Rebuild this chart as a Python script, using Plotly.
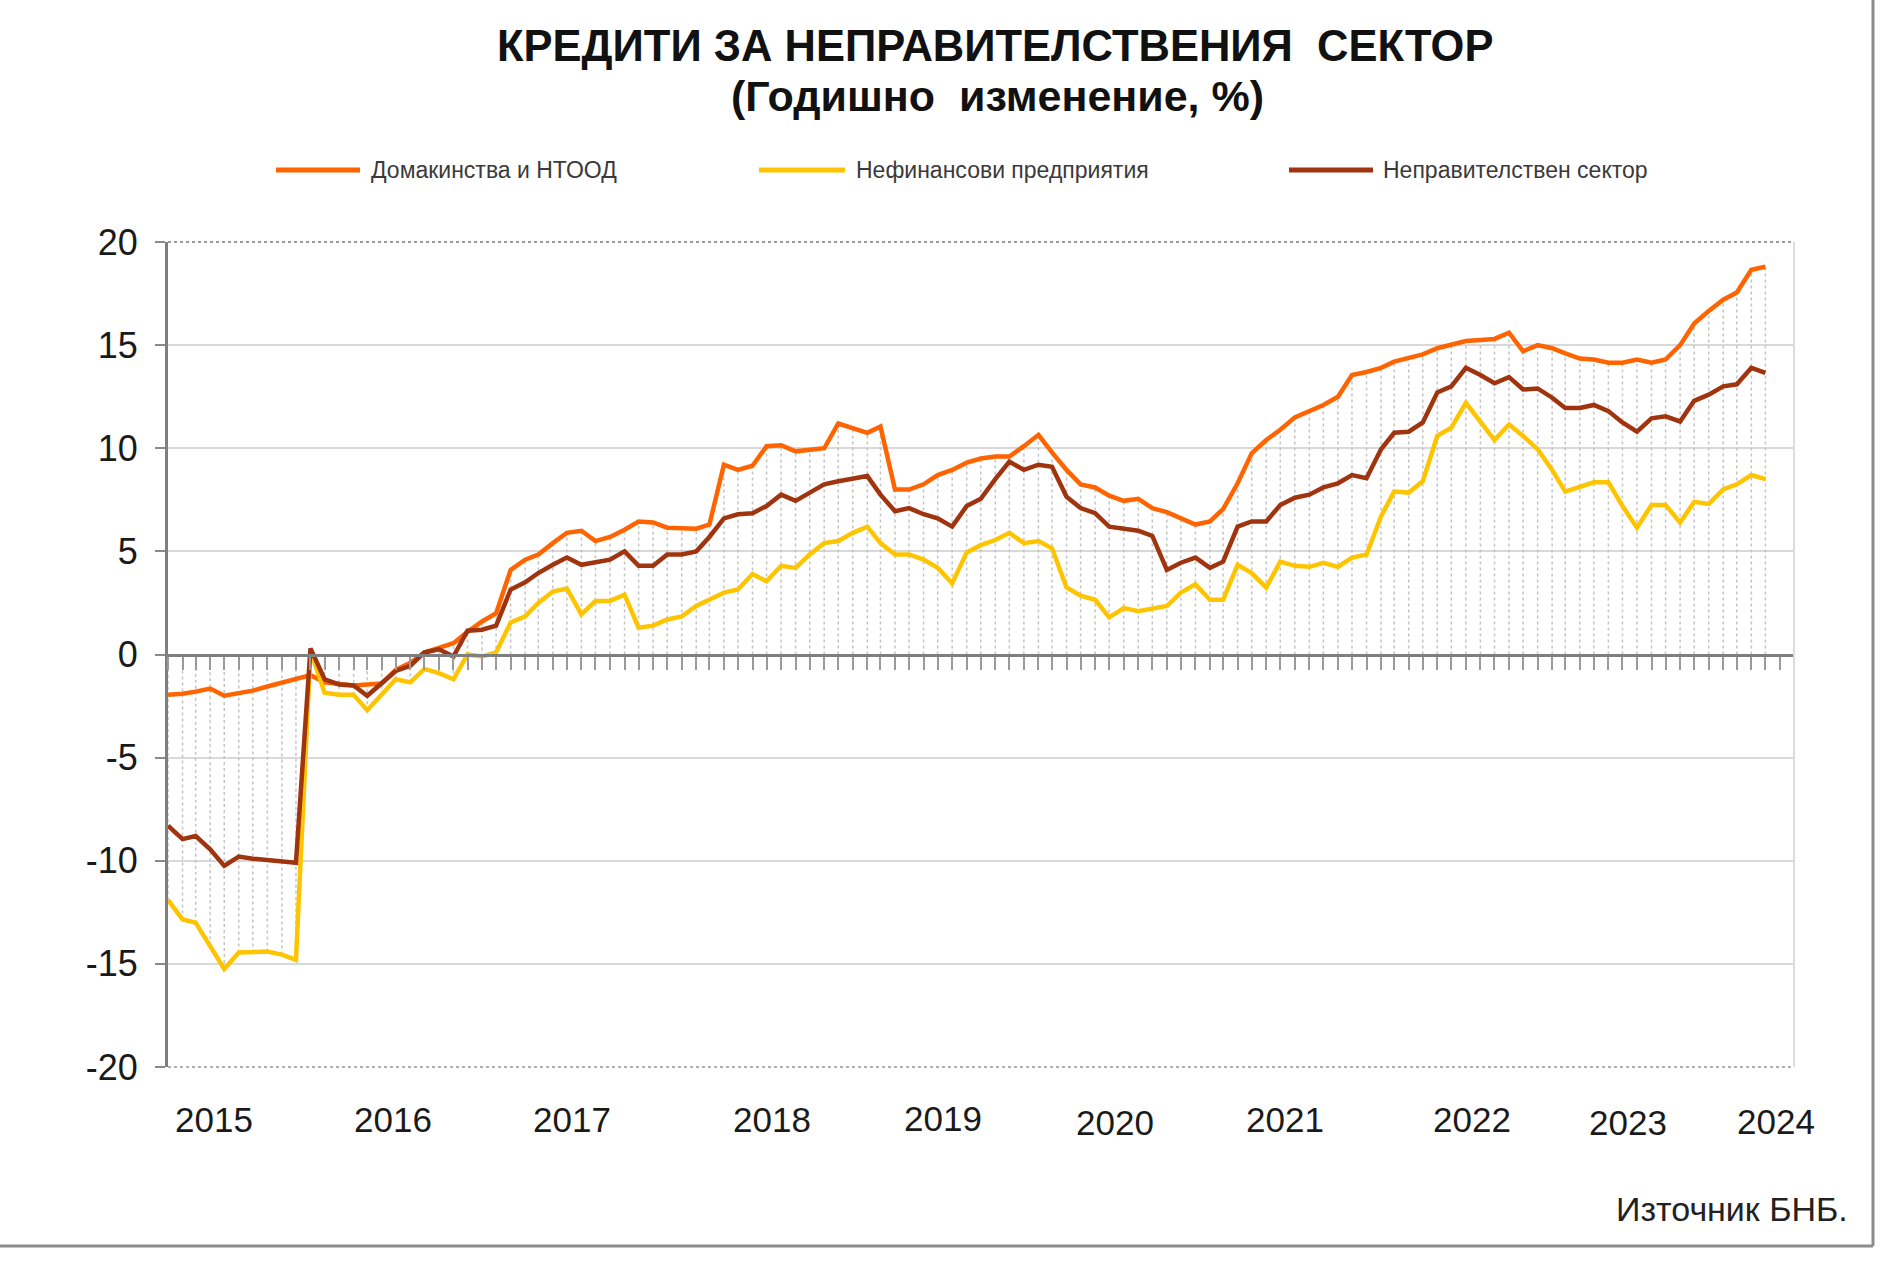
import pandas as pd
import plotly.graph_objects as go

# ---------------- data (annual change, %) ----------------
months = pd.date_range("2015-01-01", periods=113, freq="MS")

households = [
    -1.95, -1.9, -1.8, -1.65, -2.0, -1.9, -1.75, -1.55, -1.35, -1.2,
    -1.0, -1.35, -1.45, -1.5, -1.45, -1.4, -0.75, -0.4, 0.1, 0.3,
    0.55, 1.1, 1.6, 2.0, 4.1, 4.6, 4.85, 5.4, 5.9, 6.0,
    5.5, 5.7, 6.05, 6.45, 6.4, 6.15, 6.1, 6.1, 6.3, 9.2,
    8.95, 9.15, 10.1, 10.15, 9.85, 9.95, 10.0, 11.2, 10.95, 10.75,
    11.05, 8.0, 8.0, 8.25, 8.7, 8.95, 9.3, 9.5, 9.6, 9.6,
    10.1, 10.65, 9.8, 8.95, 8.25, 8.1, 7.7, 7.45, 7.55, 7.1,
    6.9, 6.6, 6.3, 6.45, 7.05, 8.3, 9.75, 10.4, 10.9, 11.5,
    11.8, 12.1, 12.5, 13.55, 13.7, 13.9, 14.2, 14.4, 14.55, 14.85,
    15.0, 15.2, 15.25, 15.3, 15.6, 14.7, 15.0, 14.85, 14.6, 14.35,
    14.3, 14.15, 14.15, 14.3, 14.15, 14.3, 15.0, 16.05, 16.65, 17.2,
    17.55, 18.65, 18.8,
]

non_financial = [
    -11.9, -12.85, -13.0, -14.1, -15.25, -14.45, -14.45, -14.4, -14.55, -14.8,
    0.2, -1.85, -1.95, -1.95, -2.7, -1.95, -1.2, -1.35, -0.7, -0.9,
    -1.2, 0.0, -0.1, 0.1, 1.55, 1.85, 2.5, 3.05, 3.2, 1.95,
    2.6, 2.6, 2.9, 1.3, 1.4, 1.7, 1.85, 2.35, 2.65, 3.0,
    3.15, 3.9, 3.55, 4.3, 4.2, 4.85, 5.4, 5.5, 5.9, 6.2,
    5.4, 4.85, 4.85, 4.6, 4.2, 3.45, 4.95, 5.3, 5.55, 5.9,
    5.4, 5.5, 5.15, 3.25, 2.85, 2.65, 1.8, 2.25, 2.1, 2.25,
    2.35, 3.0, 3.4, 2.65, 2.65, 4.35, 3.95, 3.25, 4.5, 4.3,
    4.25, 4.45, 4.25, 4.7, 4.85, 6.7, 7.9, 7.85, 8.4, 10.6,
    11.0, 12.2, 11.3, 10.4, 11.15, 10.6, 9.95, 8.95, 7.9, 8.15,
    8.35, 8.35, 7.2, 6.15, 7.25, 7.25, 6.4, 7.4, 7.3, 8.0,
    8.25, 8.7, 8.5,
]

non_government = [
    -8.3, -8.95, -8.8, -9.45, -10.25, -9.8, -9.9, -9.95, -10.0, -10.1,
    0.3, -1.2, -1.45, -1.5, -2.0, -1.4, -0.8, -0.55, 0.1, 0.25,
    -0.1, 1.15, 1.2, 1.4, 3.15, 3.5, 3.95, 4.35, 4.7, 4.35,
    4.45, 4.6, 5.0, 4.3, 4.3, 4.85, 4.85, 5.0, 5.7, 6.6,
    6.8, 6.85, 7.2, 7.75, 7.45, 7.85, 8.25, 8.4, 8.5, 8.65,
    7.75, 6.95, 7.1, 6.8, 6.6, 6.2, 7.2, 7.55, 8.5, 9.35,
    8.95, 9.2, 9.1, 7.65, 7.1, 6.85, 6.2, 6.1, 6.0, 5.75,
    4.1, 4.45, 4.7, 4.2, 4.5, 6.2, 6.45, 6.45, 7.25, 7.6,
    7.75, 8.1, 8.3, 8.7, 8.55, 9.95, 10.75, 10.8, 11.25, 12.7,
    13.0, 13.9, 13.55, 13.15, 13.45, 12.85, 12.9, 12.45, 11.95, 11.95,
    12.1, 11.8, 11.25, 10.8, 11.45, 11.55, 11.3, 12.3, 12.6, 13.0,
    13.1, 13.9, 13.65,
]

series_names = ["Домакинства и НТООД", "Нефинансови предприятия", "Неправителствен сектор"]
year_labels = ["2015", "2016", "2017", "2018", "2019", "2020", "2021", "2022", "2023", "2024"]
y_tick_values = [-20, -15, -10, -5, 0, 5, 10, 15, 20]
y_tick_labels = ["-20", "-15", "-10", "-5", "0", "5", "10", "15", "20"]
title_text = "КРЕДИТИ ЗА НЕПРАВИТЕЛСТВЕНИЯ\u00a0\u00a0СЕКТОР"
subtitle_text = "(Годишно\u00a0\u00a0изменение, %)"
source_text = "Източник БНБ."

# ---------------- layout helpers ----------------
W, H = 1880, 1268
L, R, T, B = 168, 86, 242, 201
PW, PH = W - L - R, H - T - B


def px(xp):
    return (xp - L) / PW


def py(yp):
    return (H - B - yp) / PH


FONT = "Liberation Sans, Arial, Helvetica, sans-serif"
colors = ["#ff6400", "#ffc400", "#a0340e"]
series = [households, non_financial, non_government]

fig = go.Figure()

# drop lines (light dotted verticals from the axis to the extreme points)
dx, dy = [], []
for i, d in enumerate(months):
    vals = [s[i] for s in series]
    dx += [d, d, None]
    dy += [min(0, min(vals)), max(0, max(vals)), None]
fig.add_trace(go.Scatter(x=dx, y=dy, mode="lines", showlegend=False, hoverinfo="skip",
                         line=dict(color="#c4c4c4", width=1.5, dash="dot")))

for name, vals, col in zip(series_names, series, colors):
    fig.add_trace(go.Scatter(x=months, y=vals, mode="lines", name=name, showlegend=False,
                             line=dict(color=col, width=4.5)))

# year label positions (in months after January of each year) and small vertical nudges
label_offsets = [3.2, 3.8, 4.3, 6.3, 6.3, 6.4, 6.3, 7.4, 6.3, 4.7]
label_dy = [0, 0, 0, 0, -1, 3, 0, 0, 3, 2]
annotations = []
for lab, off, ddy in zip(year_labels, label_offsets, label_dy):
    d = pd.Timestamp(f"{lab}-01-01") + pd.Timedelta(days=off * 30.44)
    annotations.append(dict(x=d, xref="x", y=py(1119 + ddy), yref="paper", text=lab, showarrow=False,
                            xanchor="center", yanchor="middle",
                            font=dict(family=FONT, size=35, color="#1a1a1a")))

annotations += [
    dict(x=px(995), y=py(46), xref="paper", yref="paper", text=title_text, showarrow=False,
         xanchor="center", yanchor="middle", font=dict(family=FONT, size=43.5, color="#111", weight="bold")),
    dict(x=px(997), y=py(96), xref="paper", yref="paper", text=subtitle_text, showarrow=False,
         xanchor="center", yanchor="middle", font=dict(family=FONT, size=43, color="#111", weight="bold")),
    dict(x=px(1850), y=py(1209), xref="paper", yref="paper", text=source_text, showarrow=False,
         xanchor="right", yanchor="middle", font=dict(family=FONT, size=34, color="#222")),
]

shapes = []
legend_pos = [(276, 360, 369), (759, 845, 854), (1289, 1373, 1381)]
for (x0, x1, xt), name, col in zip(legend_pos, series_names, colors):
    shapes.append(dict(type="line", xref="paper", yref="paper", x0=px(x0), x1=px(x1),
                       y0=py(170), y1=py(170), line=dict(color=col, width=5)))
    annotations.append(dict(x=px(xt), y=py(170), xref="paper", yref="paper", text=name,
                            showarrow=False, xanchor="left", yanchor="middle",
                            font=dict(family=FONT, size=23, color="#3a3a3a")))

# plot-area frame bits
shapes += [
    dict(type="line", xref="paper", yref="paper", x0=0, x1=1, y0=1, y1=1,
         line=dict(color="#9a9a9a", width=2, dash="dot")),
    dict(type="line", xref="paper", yref="paper", x0=0, x1=1, y0=0, y1=0,
         line=dict(color="#b0b0b0", width=2, dash="dot")),
    dict(type="line", xref="paper", yref="paper", x0=1, x1=1, y0=0, y1=1,
         line=dict(color="#dcdcdc", width=2)),
    # outer page border (right and bottom)
    dict(type="line", xref="paper", yref="paper", x0=px(1873), x1=px(1873), y0=py(0), y1=py(1246),
         line=dict(color="#8c8c8c", width=3)),
    dict(type="line", xref="paper", yref="paper", x0=px(0), x1=px(1873), y0=py(1246), y1=py(1246),
         line=dict(color="#8c8c8c", width=3)),
]

year_starts = [pd.Timestamp(f"{y}-01-01") for y in year_labels]

fig.update_layout(
    width=W, height=H,
    margin=dict(l=L, r=R, t=T, b=B),
    paper_bgcolor="white", plot_bgcolor="white",
    showlegend=False,
    annotations=annotations,
    shapes=shapes,
    xaxis=dict(
        type="date", range=["2015-01-01", "2024-07-01"],
        anchor="free", position=0.5,
        showline=True, linecolor="#7f7f7f", linewidth=3,
        showgrid=False, zeroline=False,
        tickmode="array", tickvals=year_starts, ticktext=[""] * len(year_starts),
        ticks="outside", ticklen=20, tickwidth=2, tickcolor="#8a8a8a",
        showticklabels=False,
        minor=dict(ticks="outside", ticklen=13, tickwidth=2, tickcolor="#9a9a9a",
                   tickmode="linear", tick0="2015-01-01", dtick="M1", showgrid=False),
    ),
    yaxis=dict(
        range=[-20, 20], tickmode="array", tickvals=y_tick_values, ticktext=y_tick_labels,
        showline=True, linecolor="#7f7f7f", linewidth=3,
        ticks="outside", ticklen=10, tickwidth=2, tickcolor="#8a8a8a",
        showgrid=True, gridcolor="#d9d9d9", gridwidth=2,
        zeroline=False,
        ticklabelstandoff=10,
        tickfont=dict(family=FONT, size=36, color="#1a1a1a"),
    ),
)

fig.write_html("out.html")
